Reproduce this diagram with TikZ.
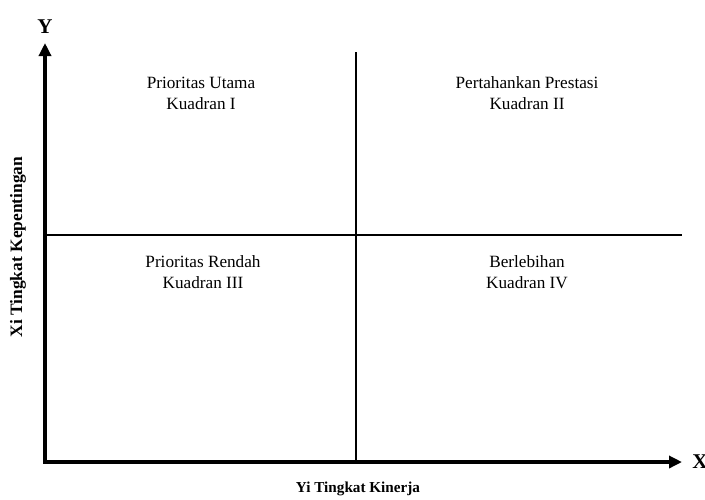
\documentclass[tikz,border=0pt]{standalone}
\usepackage{fontspec}
\setmainfont{Liberation Serif}
\usetikzlibrary{positioning}
\usetikzlibrary{arrows.meta}
\begin{document}
\begin{tikzpicture}[x=0.5pt,y=-0.5pt,node distance=1pt,
asse/.style={line width=2pt,-{Triangle[length=6.5pt,width=6pt]}},
divisore/.style={line width=0.9pt},
kuadran/.style={align=center,font=\fontsize{8.6}{10.5}\selectfont,inner sep=0pt},
etichetta/.style={font=\bfseries\fontsize{7.6}{9}\selectfont,inner sep=0pt},
lettera/.style={font=\bfseries\fontsize{10.5}{12}\selectfont,inner sep=0pt}
]
\useasboundingbox (0,0) rectangle (705,499);
\coordinate (o) at (45,462);
\coordinate (ytip) at (45,43);
\coordinate (xtip) at (682,462);
\coordinate (vtop) at (356,52);
\coordinate (vbot) at (356,462);
\coordinate (hsx) at (45,235);
\coordinate (hdx) at (682,235);
%--
\draw[asse] (o) -- (ytip);
\draw[asse] ([xshift=-1pt]o) -- (xtip);
\node[lettera,above = 4.5pt of ytip](ylab){Y};
\node[lettera,right = 5pt of xtip](xlab){X};
%--
\draw[divisore] (vtop) -- (vbot);
\draw[divisore] (hsx) -- (hdx);
%--
\node[kuadran](k1) at (201,93){Prioritas Utama\\Kuadran I};
\node[kuadran](k2) at (527,93){Pertahankan Prestasi\\Kuadran II};
\node[kuadran](k3) at (203,272){Prioritas Rendah\\Kuadran III};
\node[kuadran](k4) at (527,272){Berlebihan\\Kuadran IV};
%--
\node[etichetta,rotate=90,font=\bfseries\fontsize{8.7}{10}\selectfont](xi) at (18,247){Xi Tingkat Kepentingan};
\node[etichetta](yi) at (358,489){Yi Tingkat Kinerja};
\end{tikzpicture}
\end{document}
